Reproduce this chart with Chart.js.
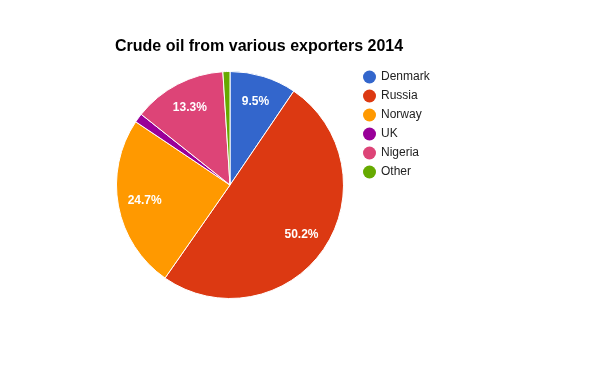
<!DOCTYPE html>
<html>
<head>
<meta charset="utf-8">
<script src="https://cdn.jsdelivr.net/npm/chart.js@4/dist/chart.umd.min.js"></script>
<style>
html, body { margin: 0; padding: 0; background: #ffffff; }
#wrap { width: 600px; height: 371px; position: relative; }
</style>
</head>
<body>
<div id="wrap"><canvas id="pieChart" width="600" height="371"></canvas></div>
<script>
const chartTitle = 'Crude oil from various exporters 2014';
const categories = ['Denmark', 'Russia', 'Norway', 'UK', 'Nigeria', 'Other'];
const shares = [9.5, 50.2, 24.7, 1.3, 13.3, 1.0];
const colors = ['#3366cc', '#dc3912', '#ff9900', '#990099', '#dd4477', '#66aa00'];

const FONT = 'Arial, "Liberation Sans", sans-serif';

// title, legend and slice labels drawn on top of the pie
const overlayPlugin = {
  id: 'overlay',
  afterDraw: function(chart) {
    var ctx = chart.ctx;
    ctx.save();
    ctx.fillStyle = '#000000';
    ctx.font = 'bold 16px ' + FONT;
    ctx.textAlign = 'left';
    ctx.textBaseline = 'alphabetic';
    ctx.fillText(chartTitle, 115, 51);

    ctx.font = '12px ' + FONT;
    ctx.textBaseline = 'middle';
    for (var i = 0; i < categories.length; i++) {
      var y = 77 + i * 19;
      ctx.fillStyle = colors[i];
      ctx.beginPath();
      ctx.arc(369.5, y, 6.5, 0, Math.PI * 2);
      ctx.fill();
      ctx.fillStyle = '#222222';
      ctx.fillText(categories[i], 381, y);
    }

    var meta = chart.getDatasetMeta(0);
    var total = shares.reduce(function(a, b) { return a + b; }, 0);
    ctx.font = 'bold 12px ' + FONT;
    ctx.fillStyle = '#ffffff';
    ctx.textAlign = 'center';
    meta.data.forEach(function(arc, i) {
      var pct = shares[i] / total * 100;
      if (pct < 5) return;
      var p = arc.getProps(['x', 'y', 'startAngle', 'endAngle', 'outerRadius'], true);
      var mid = (p.startAngle + p.endAngle) / 2;
      var r = p.outerRadius * 0.765;
      ctx.fillText(pct.toFixed(1) + '%', p.x + Math.cos(mid) * r, p.y + Math.sin(mid) * r);
    });
    ctx.restore();
  }
};

new Chart(document.getElementById('pieChart'), {
  type: 'pie',
  data: {
    labels: categories,
    datasets: [{
      data: shares,
      backgroundColor: colors,
      borderColor: '#ffffff',
      borderWidth: 1
    }]
  },
  options: {
    responsive: false,
    animation: false,
    layout: { padding: { left: 116, top: 71, right: 256, bottom: 72 } },
    plugins: {
      legend: { display: false },
      title: { display: false },
      tooltip: { enabled: false }
    }
  },
  plugins: [overlayPlugin]
});
</script>
</body>
</html>
